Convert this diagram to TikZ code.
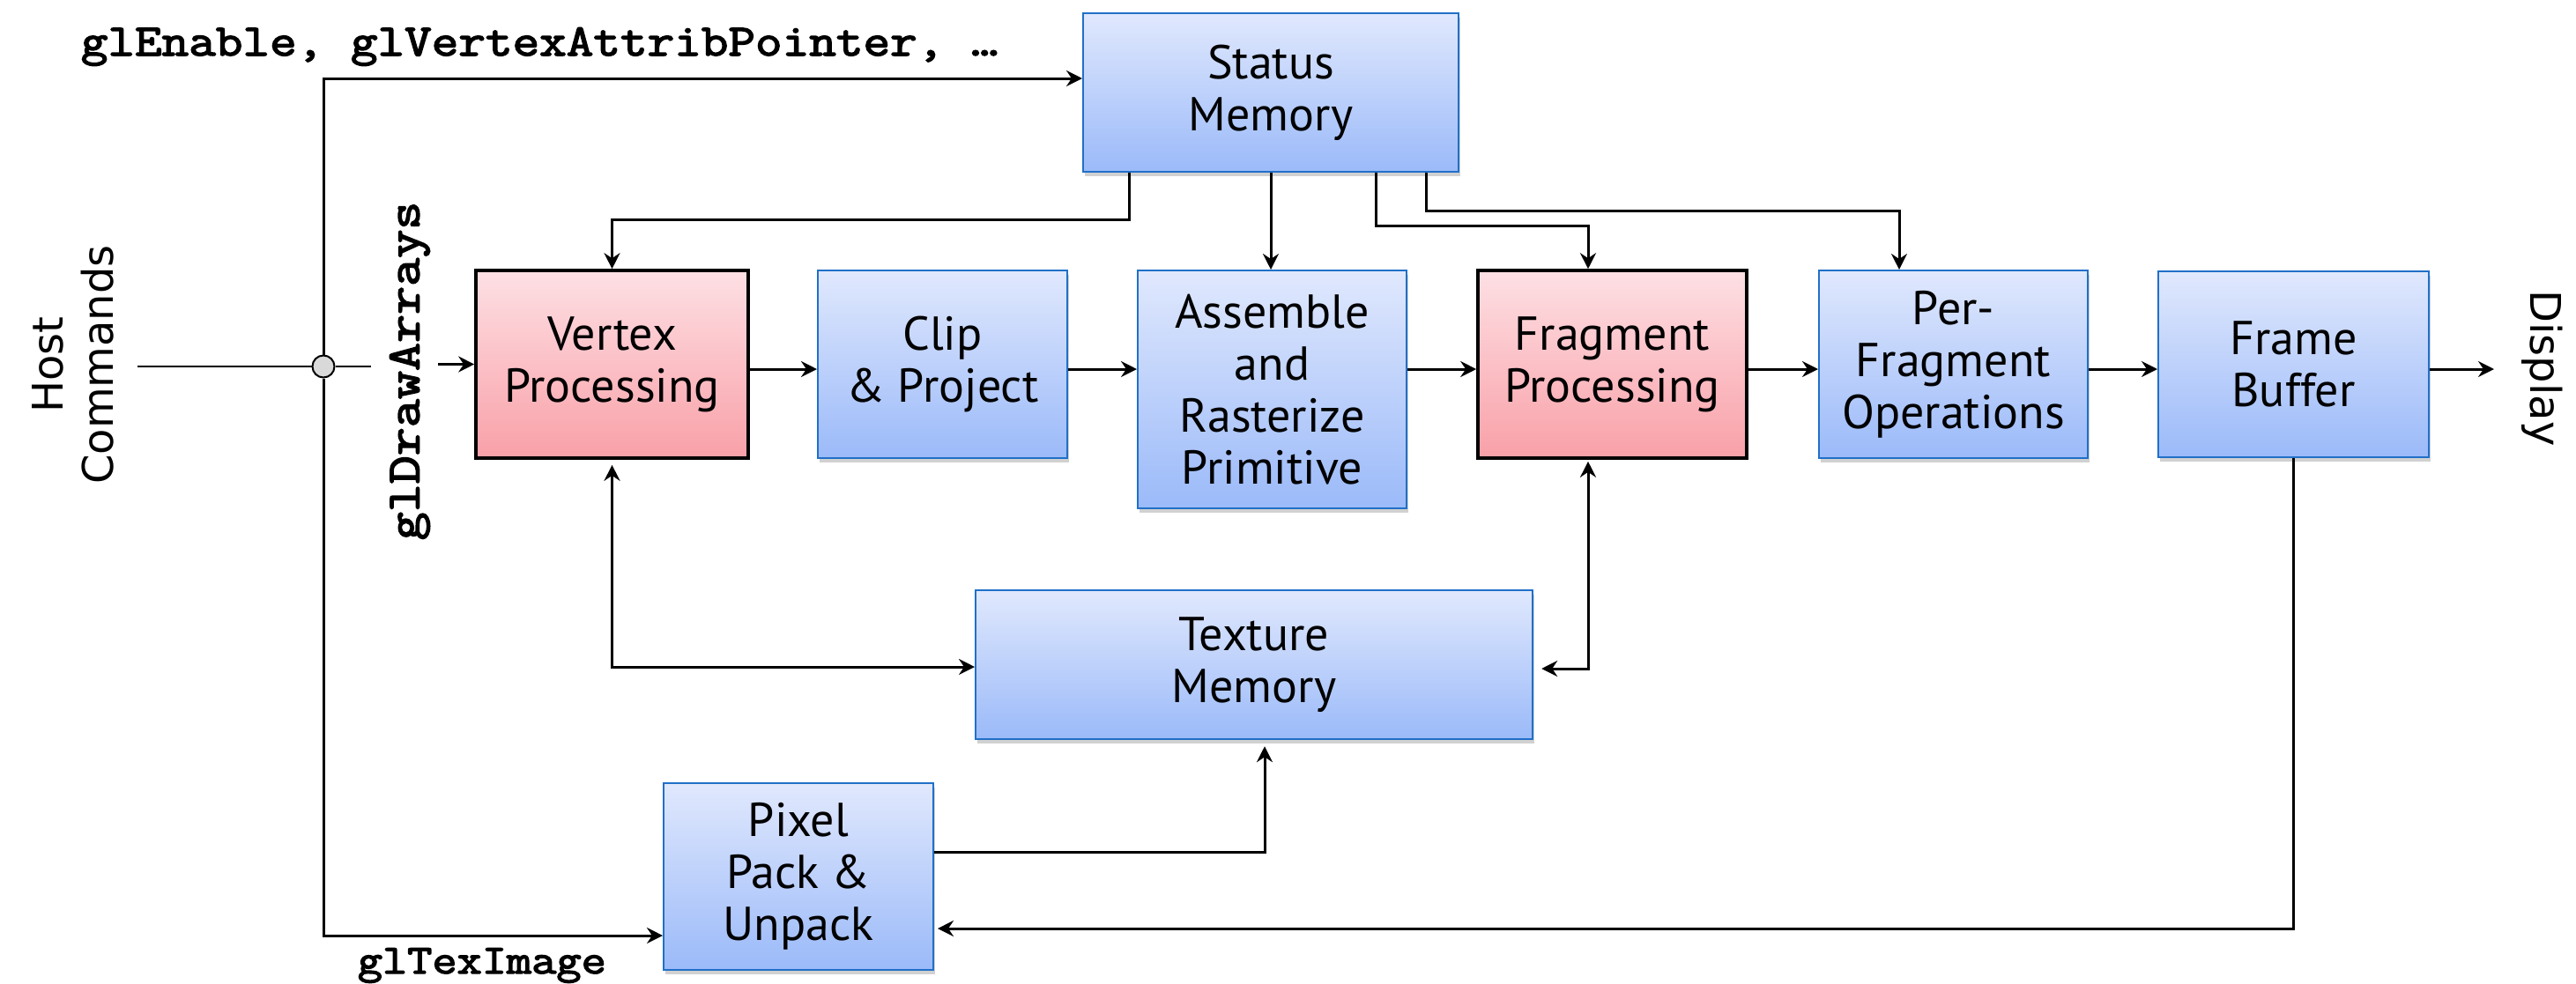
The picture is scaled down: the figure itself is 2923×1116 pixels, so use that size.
\documentclass[tikz,border=0pt]{standalone}
\usepackage{fontspec}
\setmainfont{PT Sans}
\newfontfamily\cour{Latin Modern Mono}[FakeBold=3, FakeStretch=1.17]
\newfontfamily\dejavu{DejaVu Sans}
\usetikzlibrary{arrows.meta,shadows}
\definecolor{bluetop}{HTML}{E0E8FD}
\definecolor{bluebot}{HTML}{9BBAF9}
\definecolor{blueline}{HTML}{2070C8}
\definecolor{pinktop}{HTML}{FDE0E4}
\definecolor{pinkbot}{HTML}{F9A0A8}
\tikzset{
  blk/.style={rectangle, inner sep=0pt, align=center, font=\fontsize{13.5}{14.75}\selectfont},
  bluebox/.style={blk, draw=blueline, line width=0.5pt, top color=bluetop, bottom color=bluebot,
    drop shadow={shadow xshift=0.6pt, shadow yshift=-1.2pt, opacity=0.18, fill=black}},
  pinkbox/.style={blk, draw=black, line width=0.9pt, top color=pinktop, bottom color=pinkbot},
  tip/.tip={Stealth[length=4.5pt,width=4.5pt,inset=1.5pt]},
  conn/.style={line width=0.75pt, -tip},
  conn2/.style={line width=0.75pt, tip-tip},
  plain/.style={line width=0.6pt},
  code/.style={inner sep=0pt},
  side/.style={inner sep=0pt, align=center, font=\dejavu\fontsize{12}{14.25}\selectfont},
  junction/.style={circle, draw=black, line width=0.5pt, fill=black!15, minimum size=6.25pt, inner sep=0pt}
}
\begin{document}
\begin{tikzpicture}[x=0.25pt,y=-0.25pt]
\useasboundingbox (0,0) rectangle (2923,1116);
% boxes
\node[bluebox, minimum width=106.5pt, minimum height=45pt] (sm) at (1442,105) {Status\\Memory};
\node[pinkbox, minimum width=77.25pt, minimum height=53.25pt] (vp) at (694.5,413.5) {Vertex\\Processing};
\node[bluebox, minimum width=70.75pt, minimum height=53.25pt] (cp) at (1069.5,413.5) {Clip\\\& Project};
\node[bluebox, minimum width=76.25pt, minimum height=67.5pt] (ap) at (1443.5,442) {Assemble\\and\\Rasterize\\Primitive};
\node[pinkbox, minimum width=76.25pt, minimum height=53.25pt] (fp) at (1829.5,413.5) {Fragment\\Processing};
\node[bluebox, minimum width=76.25pt, minimum height=53.25pt] (pf) at (2216.5,413.5) {Per-\\Fragment\\Operations};
\node[bluebox, minimum width=76.75pt, minimum height=52.75pt] (fb) at (2602.5,413.5) {Frame\\Buffer};
\node[bluebox, minimum width=158pt, minimum height=42.25pt] (tm) at (1423,754.5) {Texture\\Memory};
\node[bluebox, minimum width=76.5pt, minimum height=53pt] (pp) at (906,995) {Pixel\\Pack \&\\Unpack};
% labels
\node[code, anchor=base west, font=\cour\fontsize{12.7}{14}\selectfont] (glen) at (91,63) {glEnable, glVertexAttribPointer, …};
\node[code, rotate=90, font=\cour\fontsize{13.3}{15}\selectfont] (gda) at (465,421) {glDrawArrays};
\node[code, anchor=base west, font=\cour\fontsize{11.7}{14}\selectfont] (gti) at (405,1105) {glTexImage};
\node[side, rotate=90] (host) at (83,414) {Host\\Commands};
\node[side, rotate=-90] (disp) at (2885,418) {Display};
% junction
\node[junction] (jn) at (367,416) {};
% coordinates
\coordinate (rowy) at (0,419);
\coordinate (hoststart) at (156,416);
\coordinate (hostend) at (421,416);
\coordinate (topcorner) at (367,89);
\coordinate (botcorner) at (367,1062);
\coordinate (gdastart) at (497,413.5);
\coordinate (dispend) at (2830,419);
\coordinate (s1) at (1281,249);
\coordinate (s2) at (1561,256);
\coordinate (s2b) at (1802,256);
\coordinate (s3) at (1618,239);
\coordinate (s3b) at (2155,239);
\coordinate (vt) at (694.5,757);
\coordinate (ft) at (1802,759);
\coordinate (pt1) at (1435,967);
\coordinate (fbp) at (2602.5,1054);
% host commands
\draw[plain] (hoststart) -- (jn.west);
\draw[plain] (jn.east) -- (hostend);
\draw[conn] (jn.north) -- (topcorner) -- (sm.west |- topcorner);
\draw[conn] (jn.south) -- (botcorner) -- (pp.west |- botcorner);
\draw[conn] (gdastart) -- (vp.west);
% main row
\draw[conn] (vp.east |- rowy) -- (cp.west |- rowy);
\draw[conn] (cp.east |- rowy) -- (ap.west |- rowy);
\draw[conn] (ap.east |- rowy) -- (fp.west |- rowy);
\draw[conn] (fp.east |- rowy) -- (pf.west |- rowy);
\draw[conn] (pf.east |- rowy) -- (fb.west |- rowy);
\draw[conn] (fb.east |- rowy) -- (dispend);
% status memory
\draw[conn] (sm.south -| s1) -- (s1) -- (s1 -| vp.north) -- (vp.north);
\draw[conn] (sm.south) -- (sm.south |- ap.north);
\draw[conn] (sm.south -| s2) -- (s2) -- (s2b) -- (s2b |- fp.north);
\draw[conn] (sm.south -| s3) -- (s3) -- (s3b) -- (s3b |- pf.north);
% texture
\draw[conn2, shorten <=1.5pt] (vp.south) -- (vt) -- (vt -| tm.west);
\draw[conn2, shorten <=0.5pt, shorten >=2.3pt] (fp.south -| ft) -- (ft) -- (ft -| tm.east);
\draw[conn, shorten >=1.8pt] (pp.east |- pt1) -- (pt1) -- (pt1 |- tm.south);
\draw[conn, shorten >=1pt] (fb.south) -- (fbp) -- (fbp -| pp.east);
\end{tikzpicture}
\end{document}
